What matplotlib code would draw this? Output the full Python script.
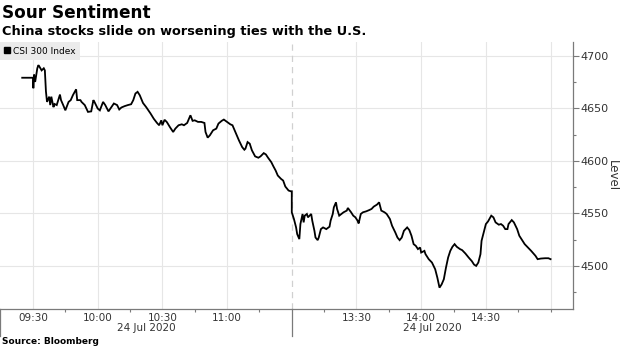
import matplotlib
matplotlib.use("Agg")
import matplotlib.pyplot as plt
from matplotlib.lines import Line2D
from matplotlib.ticker import FixedLocator, MultipleLocator

# CSI 300 intraday, 24 Jul 2020 (auction print at 09:25, lunch break 11:30-13:00)
times = [
    "09:25", "09:30", "09:30:10", "09:30:30", "09:31", "09:32", "09:32:30", "09:33", "09:34",
    "09:35", "09:35:30", "09:36", "09:36:30", "09:37:30", "09:38", "09:38:30", "09:39:30",
    "09:40", "09:41", "09:42:30", "09:43", "09:44", "09:45", "09:46:30", "09:47:30",
    "09:48:30", "09:50", "09:50:30", "09:52", "09:52:30", "09:54", "09:55:30", "09:57",
    "09:58", "09:58:30", "10:00", "10:01", "10:02:30", "10:03:30", "10:05", "10:06",
    "10:07:30", "10:09", "10:10", "10:11", "10:12:30", "10:14", "10:15:30", "10:16:30",
    "10:17:30", "10:18:30", "10:19:30", "10:21", "10:22:30", "10:24:30", "10:26", "10:27:30",
    "10:28:30", "10:29:30", "10:30", "10:31", "10:32", "10:32:30", "10:33:30", "10:35",
    "10:36", "10:37:30", "10:39", "10:40", "10:41:30", "10:43", "10:44", "10:45",
    "10:46:30", "10:48", "10:49:30", "10:50", "10:51", "10:52", "10:53:30", "10:55",
    "10:56", "10:57:30", "10:58:30", "11:00", "11:01:30", "11:02:30", "11:03:30", "11:04:30",
    "11:05:30", "11:07", "11:08", "11:08:30", "11:09:30", "11:10:30", "11:11:30", "11:13",
    "11:14:30", "11:15:30", "11:17", "11:18", "11:19", "11:20:30", "11:21:30", "11:22:30",
    "11:23:30", "11:25", "11:26", "11:27", "11:28:30", "11:29:30", "11:30",
    "13:00", "13:01", "13:02", "13:02:30", "13:03:30", "13:04", "13:05", "13:05:30",
    "13:06", "13:07", "13:07:30", "13:09", "13:09:30", "13:10:30", "13:11", "13:12",
    "13:12:30", "13:13:30", "13:14:30", "13:16", "13:17:30", "13:18", "13:19", "13:19:30",
    "13:20:30", "13:21", "13:22", "13:23", "13:24", "13:25:30", "13:26", "13:27:30",
    "13:28:30", "13:29:30", "13:30:30", "13:31", "13:32", "13:33", "13:34:30", "13:36",
    "13:37", "13:38", "13:39:30", "13:40:30", "13:41:30", "13:43", "13:44", "13:45:30",
    "13:46:30", "13:48", "13:49", "13:50", "13:51", "13:52", "13:53:30", "13:54:30",
    "13:55:30", "13:56:30", "13:57:30", "13:58:30", "13:59:30", "14:00", "14:01:30", "14:02",
    "14:03:30", "14:05", "14:06:30", "14:07:30", "14:08:30", "14:09:30", "14:10:30", "14:11:30",
    "14:12:30", "14:13:30", "14:14:30", "14:15:30", "14:16:30", "14:18", "14:19", "14:20:30",
    "14:22", "14:23:30", "14:24:30", "14:25:30", "14:26:30", "14:27:30", "14:28", "14:29",
    "14:30", "14:31", "14:32:30", "14:33:30", "14:34:30", "14:36", "14:37", "14:38",
    "14:39", "14:40", "14:40:30", "14:42", "14:43", "14:44:30", "14:45:30", "14:46:30",
    "14:48", "14:49:30", "14:51", "14:53", "14:54", "14:55:30", "14:57:30", "14:59",
    "15:00",
]
level = [
    4679, 4679, 4669, 4682, 4675, 4688, 4691, 4689.5, 4686,
    4688, 4686, 4666, 4656, 4661, 4653, 4661, 4651,
    4654, 4653, 4663, 4657.7, 4653, 4648, 4656, 4657.7,
    4662.4, 4668, 4657.7, 4657.7, 4656, 4653, 4646.5, 4647,
    4657.7, 4656, 4649.7, 4648, 4656, 4653, 4647, 4650,
    4654.5, 4653, 4648.8, 4650.7, 4652, 4653, 4653.8, 4657.7,
    4664, 4665.6, 4662.4, 4655, 4651, 4645, 4640, 4636,
    4633.8, 4638.5, 4633.8, 4639, 4637, 4635.4, 4632, 4627.4,
    4630.6, 4633.8, 4634.7, 4633.8, 4636, 4643.3, 4638, 4638.5,
    4637, 4637, 4636, 4627.4, 4622, 4624.2, 4629, 4630.6,
    4635.4, 4638, 4639.2, 4637, 4634.7, 4633.8, 4629, 4624.2,
    4619.4, 4613, 4610.5, 4611.5, 4617.8, 4616.3, 4610, 4604.2,
    4602.9, 4604.2, 4607.3, 4606, 4602.9, 4598.7, 4594.6, 4590.8,
    4586, 4582.8, 4581.2, 4575.5, 4571.7, 4571, 4571,
    4551, 4544.6, 4536.6, 4530.3, 4525.5, 4539.8, 4549.4, 4541.4,
    4547.8, 4549.4, 4546.2, 4549.4, 4543, 4533.4, 4527, 4524.5,
    4527, 4535, 4536.6, 4535, 4537.3, 4543, 4549.4, 4555.7,
    4560.5, 4554.2, 4547.8, 4549.4, 4551, 4552.6, 4555.1, 4551,
    4547.8, 4546.2, 4543, 4540.4, 4549.4, 4551, 4551.9, 4553.2,
    4554.2, 4556.4, 4558.3, 4560.5, 4552.6, 4551, 4549.4, 4544.6,
    4538.2, 4531.8, 4527, 4524.5, 4527, 4533.4, 4536.6, 4534.1,
    4528.7, 4520.7, 4519.1, 4516, 4517.5, 4512.7, 4514.3, 4511.2,
    4506.4, 4503.2, 4496.8, 4488.8, 4479.3, 4482.5, 4487.3, 4498.4,
    4508, 4514.3, 4518.2, 4520.7, 4518.2, 4516, 4515, 4511.8,
    4508, 4504.5, 4501.3, 4500, 4503.2, 4511.2, 4523.9, 4531.8,
    4539.8, 4542.3, 4547.8, 4546.2, 4541.4, 4539.2, 4539.8, 4538.2,
    4535, 4535, 4539.8, 4543.6, 4541.4, 4535, 4528.7, 4525.5,
    4520.7, 4517.5, 4514.3, 4509.6, 4506.4, 4507, 4507.3, 4507.3,
    4506.4,
]

labelled_times = ["09:30", "10:00", "10:30", "11:00", "13:30", "14:00", "14:30"]
grid_times = labelled_times + ["15:00"]
minor_times = ["09:45", "10:15", "10:45", "11:15", "13:15", "13:45", "14:15", "14:45"]
session_date = "24 Jul 2020"
y_ticks = [4500, 4550, 4600, 4650, 4700]


def trading_minute(s):
    # minutes of trading since 09:30, with the lunch break squeezed out
    parts = [int(p) for p in s.split(":")]
    mins = parts[0] * 60 + parts[1] + (parts[2] / 60 if len(parts) > 2 else 0)
    if mins <= 11 * 60 + 30:
        return mins - (9 * 60 + 30)
    return mins - 13 * 60 + 120


x = [trading_minute(t) for t in times]
brk = trading_minute("13:00")
x_lo, x_hi = -15.3, 250.4

fig = plt.figure(figsize=(6.2, 3.48), dpi=100)
ax = fig.add_axes([0, 1 - 309 / 348, 573 / 620, 267 / 348])

grid_c = "#e6e6e6"
for t in grid_times:
    ax.axvline(trading_minute(t), color=grid_c, lw=0.8, zorder=0)
for v in y_ticks:
    ax.axhline(v, color=grid_c, lw=0.8, zorder=0)
ax.axvline(brk, color="#d0d0d0", lw=0.9, ls=(0, (5, 4)), zorder=0)

ax.plot(x, level, color="black", lw=1.3, solid_joinstyle="miter", zorder=3)

ax.set_xlim(x_lo, x_hi)
ax.set_ylim(4459, 4713)

for side in ["top", "left"]:
    ax.spines[side].set_visible(False)
for side in ["right", "bottom"]:
    ax.spines[side].set_color("#7a7a7a")
    ax.spines[side].set_linewidth(0.9)

ax.yaxis.tick_right()
ax.yaxis.set_major_locator(FixedLocator(y_ticks))
ax.yaxis.set_minor_locator(MultipleLocator(25))
ax.tick_params(axis="y", which="major", length=4, width=0.8, color="#7a7a7a",
               labelsize=8, labelcolor="#333333", pad=1)
ax.tick_params(axis="y", which="minor", length=2.5, width=0.8, color="#7a7a7a")

ax.set_xticks([trading_minute(t) for t in labelled_times])
ax.set_xticklabels(labelled_times)
ax.set_xticks([trading_minute(t) for t in minor_times] + [trading_minute("15:00")], minor=True)
ax.tick_params(axis="x", which="major", length=0, labelsize=7.5, labelcolor="#333333", pad=3)
ax.tick_params(axis="x", which="minor", length=2.5, width=0.8, color="#7a7a7a")

# session dividers and date captions under the time labels
for xv in [x_lo, brk]:
    ax.add_line(Line2D([xv, xv], [0, -0.1], transform=ax.get_xaxis_transform(),
                       color="#7a7a7a", lw=0.9, clip_on=False))
for xv in [(x_lo + brk) / 2, (brk + x_hi) / 2]:
    ax.text(xv, -0.072, session_date, transform=ax.get_xaxis_transform(),
            ha="center", va="center", fontsize=7.5, color="#333333")

leg = ax.legend([Line2D([], [], marker="s", color="black", ls="none", markersize=4)],
                ["CSI 300 Index"], loc="upper left", bbox_to_anchor=(0, 1),
                borderaxespad=0, fontsize=6.5, frameon=True, fancybox=False,
                handlelength=0.6, handletextpad=0.3, borderpad=0.5)
leg.get_frame().set_facecolor("#ebebeb")
leg.get_frame().set_edgecolor("none")
leg.get_frame().set_alpha(1)

fig.text(612 / 620, 1 - 176 / 348, "Level", rotation=270, ha="center", va="center",
         fontsize=8.5, color="#333333")
fig.text(0.003, 1 - 13 / 348, "Sour Sentiment", fontsize=12.2, fontweight="bold",
         ha="left", va="center")
fig.text(0.003, 1 - 32 / 348, "China stocks slide on worsening ties with the U.S.",
         fontsize=9.3, fontweight="bold", ha="left", va="center")
fig.text(0.003, 1 - 342 / 348, "Source: Bloomberg", fontsize=6.5, fontweight="bold",
         ha="left", va="center")

fig.savefig("out.png", dpi=100)
